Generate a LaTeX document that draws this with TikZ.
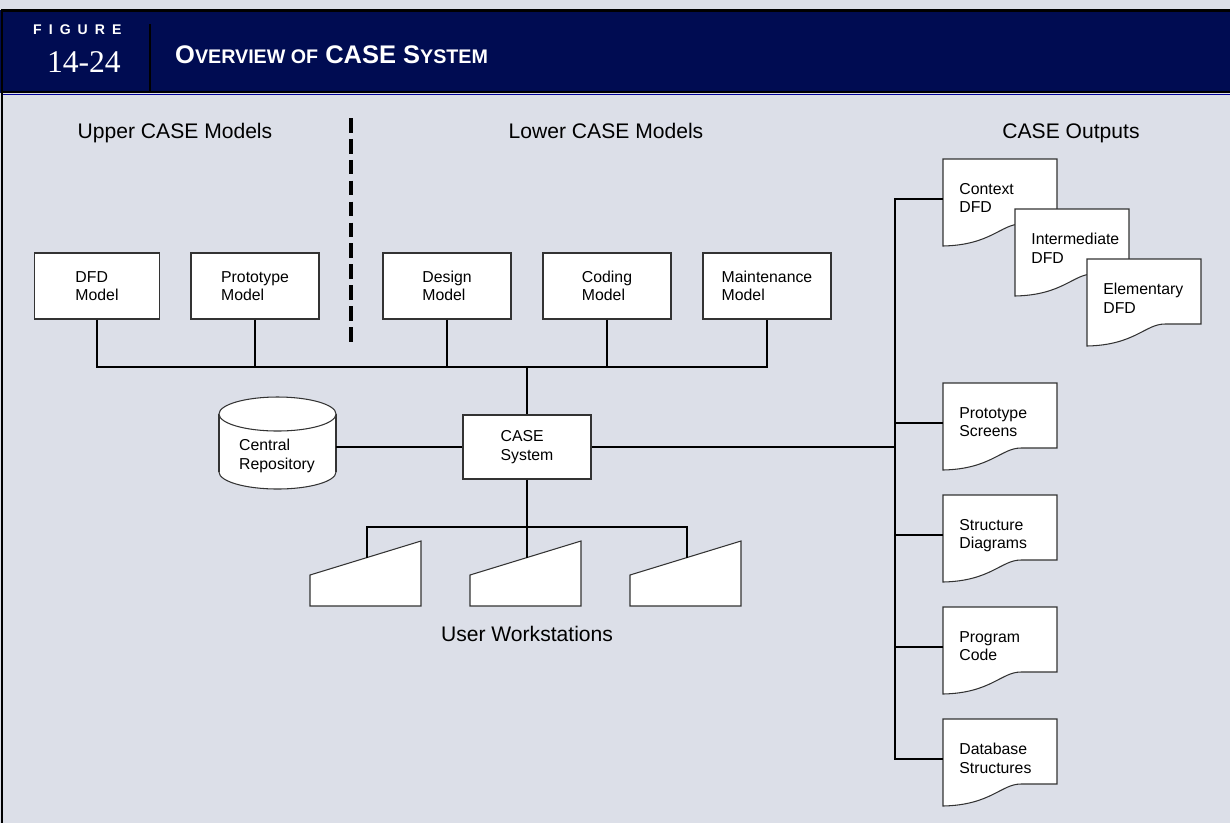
\documentclass[tikz,border=0pt]{standalone}
\usepackage{fontspec}
\setmainfont{Liberation Sans}
\newfontfamily\figserif{Liberation Serif}
\definecolor{panel}{RGB}{220,223,232}
\definecolor{bandnavy}{RGB}{0,12,82}

\begin{document}
\begin{tikzpicture}[
  x=0.02cm, y=-0.02cm,
  conn/.style={line width=1.5pt},
  thinline/.style={draw=black!80, fill=white, line width=0.6pt},
  modelbox/.style={thinline, minimum width=2.56cm, minimum height=1.32cm, align=left, font=\fontsize{9}{10.5}\selectfont},
  lbl/.style={font=\fontsize{9}{10.5}\selectfont, align=left, inner sep=0pt},
  heading/.style={font=\fontsize{12}{14}\selectfont, anchor=base},
  docpage/.pic={
    \filldraw[thinline] (0,0) -- (114,0) -- (114,65) -- (78,65) .. controls (58,65) and (48,86) .. (0,87) -- cycle;
    \node[lbl, anchor=north west] (-txt) at (16,24) {#1};
    \coordinate (-in) at (0,40);
  },
  workstation/.pic={
    \filldraw[thinline] (0,65) -- (0,34) -- (111,0) -- (111,65) -- cycle;
    \coordinate (-top) at (57,16.5);
  }
]
  \useasboundingbox (0,0) rectangle (1230,823);

  % --- fond et bandeau ---
  \fill[panel] (0,0) rectangle (1230,823);
  \fill[bandnavy] (0,10) rectangle (1230,93);
  \draw[line width=1.7pt] (1230,10) -- (2,10) -- (2,823);
  \draw[line width=1.4pt] (2,92) -- (1230,92);
  \draw[blue!60!black, line width=0.6pt] (3,94.5) -- (1230,94.5);
  \draw[line width=1.6pt] (150,24) -- (150,92);
  \node[font=\bfseries\fontsize{8}{9}\selectfont, text=white, anchor=west] (figword) at (27,30) {\addfontfeature{LetterSpace=50}FIGURE};
  \node[font=\figserif\fontsize{18}{20}\selectfont, text=white, anchor=east] (fignum) at (127,62) {14-24};
  \node[font=\bfseries\fontsize{14.5}{16}\selectfont, text=white, anchor=west] (title) at (169,55)
    {O{\fontsize{11.2}{12}\selectfont VERVIEW OF} CASE S{\fontsize{11.2}{12}\selectfont YSTEM}};

  % --- titres des colonnes ---
  \node[heading] (upper) at (175,138) {Upper CASE Models};
  \node[heading] (lower) at (606,138) {Lower CASE Models};
  \node[heading] (outputs) at (1071,138) {CASE Outputs};
  \draw[line width=1.8pt, dash pattern=on 8.3pt off 3.6pt] (351,118) -- (351,347);

  % --- modeles ---
  \node[modelbox, minimum width=2.5cm] (dfd) at (97,286) {DFD\\Model};
  \node[modelbox] (proto) at (255,286) {Prototype\\Model};
  \node[modelbox] (design) at (447,286) {Design\\Model};
  \node[modelbox] (coding) at (607,286) {Coding\\Model};
  \node[modelbox] (maint) at (767,286) {Maintenance\\Model};
  \coordinate (bus) at (527,367);
  \draw[conn] (dfd.south) |- (bus) -| (maint.south);
  \draw[conn] (proto.south) -- (proto.south |- bus);
  \draw[conn] (design.south) -- (design.south |- bus);
  \draw[conn] (coding.south) -- (coding.south |- bus);

  % --- systeme et referentiel ---
  \node[modelbox, minimum height=1.28cm] (case) at (527,447) {CASE\\System};
  \draw[conn] (bus) -- (case.north);
  \filldraw[thinline] (277.5,472) ellipse [x radius=58.5, y radius=17];
  \fill[white] (219,414) rectangle (336,472);
  \draw[thinline] (219,414) -- (219,472) (336,414) -- (336,472);
  \filldraw[thinline] (277.5,414) ellipse [x radius=58.5, y radius=17];
  \node[lbl] (repo) at (277,456) {Central\\Repository};
  \coordinate (repo-e) at (336,447);
  \draw[conn] (repo-e) -- (case.west);

  % --- postes de travail ---
  \pic (ws1) at (310,541) {workstation};
  \pic (ws2) at (470,541) {workstation};
  \pic (ws3) at (630,541) {workstation};
  \coordinate (wbus) at (527,527);
  \draw[conn] (case.south) -- (ws2-top);
  \draw[conn] (ws1-top) |- (wbus) -| (ws3-top);
  \node[heading] (users) at (527,641) {User Workstations};

  % --- sorties ---
  \pic (ctx) at (943,159) {docpage={Context\\DFD}};
  \pic (inter) at (1015,209) {docpage={Intermediate\\DFD}};
  \pic (elem) at (1087,259) {docpage={Elementary\\DFD}};
  \pic (scr) at (943,383) {docpage={Prototype\\Screens}};
  \pic (sd) at (943,495) {docpage={Structure\\Diagrams}};
  \pic (pc) at (943,607) {docpage={Program\\Code}};
  \pic (dbs) at (943,719) {docpage={Database\\Structures}};
  \coordinate (obus) at (895,447);
  \draw[conn] (case.east) -- (obus);
  \draw[conn] (ctx-in) -| (obus) |- (dbs-in);
  \draw[conn] (scr-in -| obus) -- (scr-in);
  \draw[conn] (sd-in -| obus) -- (sd-in);
  \draw[conn] (pc-in -| obus) -- (pc-in);
\end{tikzpicture}
\end{document}
